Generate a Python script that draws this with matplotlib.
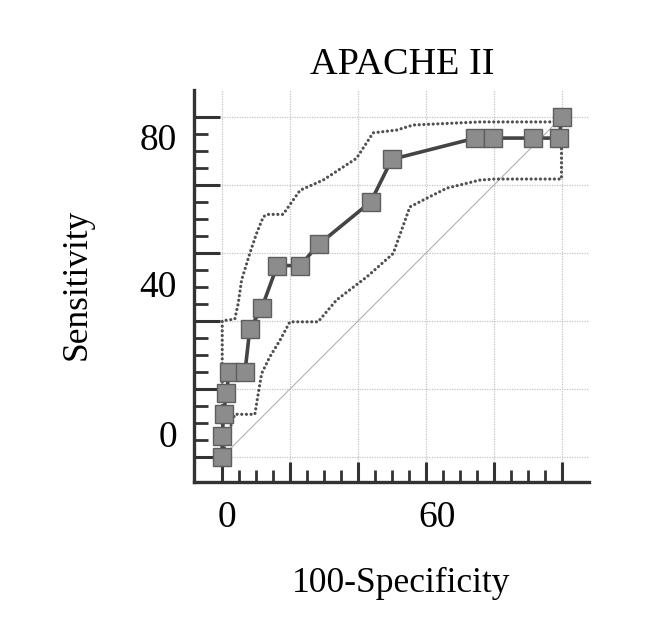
import matplotlib
matplotlib.use("Agg")
import matplotlib.pyplot as plt
import matplotlib.transforms as mtransforms

plt.rcParams['font.family'] = ['Liberation Serif', 'DejaVu Serif']

# ROC points (100-specificity, sensitivity)
fpr = [0, 0, 0.4, 1.2, 2.1, 6.7, 8.1, 11.6, 16.2, 22.9, 28.4, 43.7, 49.9,
       74.5, 79.7, 91.5, 99.0, 100]
sens = [0, 6.25, 12.5, 18.75, 25, 25, 37.5, 43.75, 56.25, 56.25, 62.5, 75,
        87.5, 93.75, 93.75, 93.75, 93.75, 100]

# confidence bounds
upper_x = [0, 0, 3.7, 4.7, 5.7, 8.1, 10.1, 12.1, 13.2, 17.9, 22.9, 29.7,
           39.5, 44.4, 51.3, 56.2, 75.8, 97.4, 100]
upper_y = [0, 40, 40.5, 45.1, 52, 59.8, 65.7, 70.6, 71.3, 71.3, 78.4, 81.4,
           87.8, 95.3, 96.1, 97.6, 98.5, 98.5, 100]
lower_x = [0, 1.5, 3.7, 9.6, 10.6, 11.6, 14.0, 17.0, 19.9, 28.2, 33.6, 42.5,
           50.3, 55.2, 59.1, 66.0, 75.8, 80.2, 99.8, 99.8]
lower_y = [0, 6, 12.5, 12.5, 18.6, 24.5, 29.4, 34.3, 39.7, 39.7, 46.1, 52.9,
           59.8, 73.5, 75.5, 79.0, 81.4, 81.7, 81.7, 93.75]

# tick labels as printed (they sit slightly off the grid in the original)
ylab_text = ['0', '40', '80']
ylab_pos = [5.5, 49.6, 93.1]
xlab_text = ['0', '60']
xlab_pos = [1.3, 63.1]

fig = plt.figure(figsize=(6.66, 6.44), dpi=100)
ax = fig.add_axes([0.2913, 0.2516, 0.5931, 0.6087])
ax.set_xlim(-8.3, 107.9)
ax.set_ylim(-7.4, 107.9)

ax.plot([0, 100], [0, 100], color='#b0b0b0', lw=0.8, zorder=2)
for bx, by in [(upper_x, upper_y), (lower_x, lower_y)]:
    ax.plot(bx, by, color='#505050', lw=2.3, linestyle=(0, (0.01, 1.45)),
            dash_capstyle='round', zorder=3)
ax.plot(fpr, sens, color='#444444', lw=2.6, marker='s', markersize=12.5,
        markerfacecolor='#8c8c8c', markeredgecolor='#5e5e5e',
        markeredgewidth=1.0, zorder=4)

ax.set_xticks([0, 20, 40, 60, 80, 100])
ax.set_yticks([0, 20, 40, 60, 80, 100])
ax.set_xticks([v for v in range(5, 100, 5) if v % 20], minor=True)
ax.set_yticks([v for v in range(5, 100, 5) if v % 20], minor=True)
ax.tick_params(labelbottom=False, labelleft=False)
ax.tick_params(axis='x', which='major', direction='in', length=14.5, width=2.2, color='#333333')
ax.tick_params(axis='x', which='minor', direction='in', length=8.5, width=2.0, color='#333333')
ax.tick_params(axis='y', which='major', direction='in', length=19, width=2.2, color='#333333')
ax.tick_params(axis='y', which='minor', direction='in', length=10, width=2.0, color='#333333')

ax.grid(True, which='major', color='#c4c4c4', lw=0.9, linestyle=(0, (1, 1)))
ax.set_axisbelow(True)

for s in ['top', 'right']:
    ax.spines[s].set_visible(False)
for s in ['left', 'bottom']:
    ax.spines[s].set_linewidth(2.4)
    ax.spines[s].set_color('#333333')

ytrans = mtransforms.blended_transform_factory(ax.transAxes, ax.transData)
for t, p in zip(ylab_text, ylab_pos):
    ax.text(-0.043, p, t, transform=ytrans, ha='right', va='center', fontsize=27)
xtrans = mtransforms.blended_transform_factory(ax.transData, ax.transAxes)
for t, p in zip(xlab_text, xlab_pos):
    ax.text(p, -0.092, t, transform=xtrans, ha='center', va='center', fontsize=27)

ax.text(0.527, 1.064, 'APACHE II', transform=ax.transAxes, ha='center',
        va='center', fontsize=27.5)
ax.text(0.524, -0.258, '100-Specificity', transform=ax.transAxes,
        ha='center', va='center', fontsize=25.5)
ax.text(-0.296, 0.503, 'Sensitivity', transform=ax.transAxes, ha='center',
        va='center', rotation=90, fontsize=25.5)

fig.savefig('out.png', dpi=100)
